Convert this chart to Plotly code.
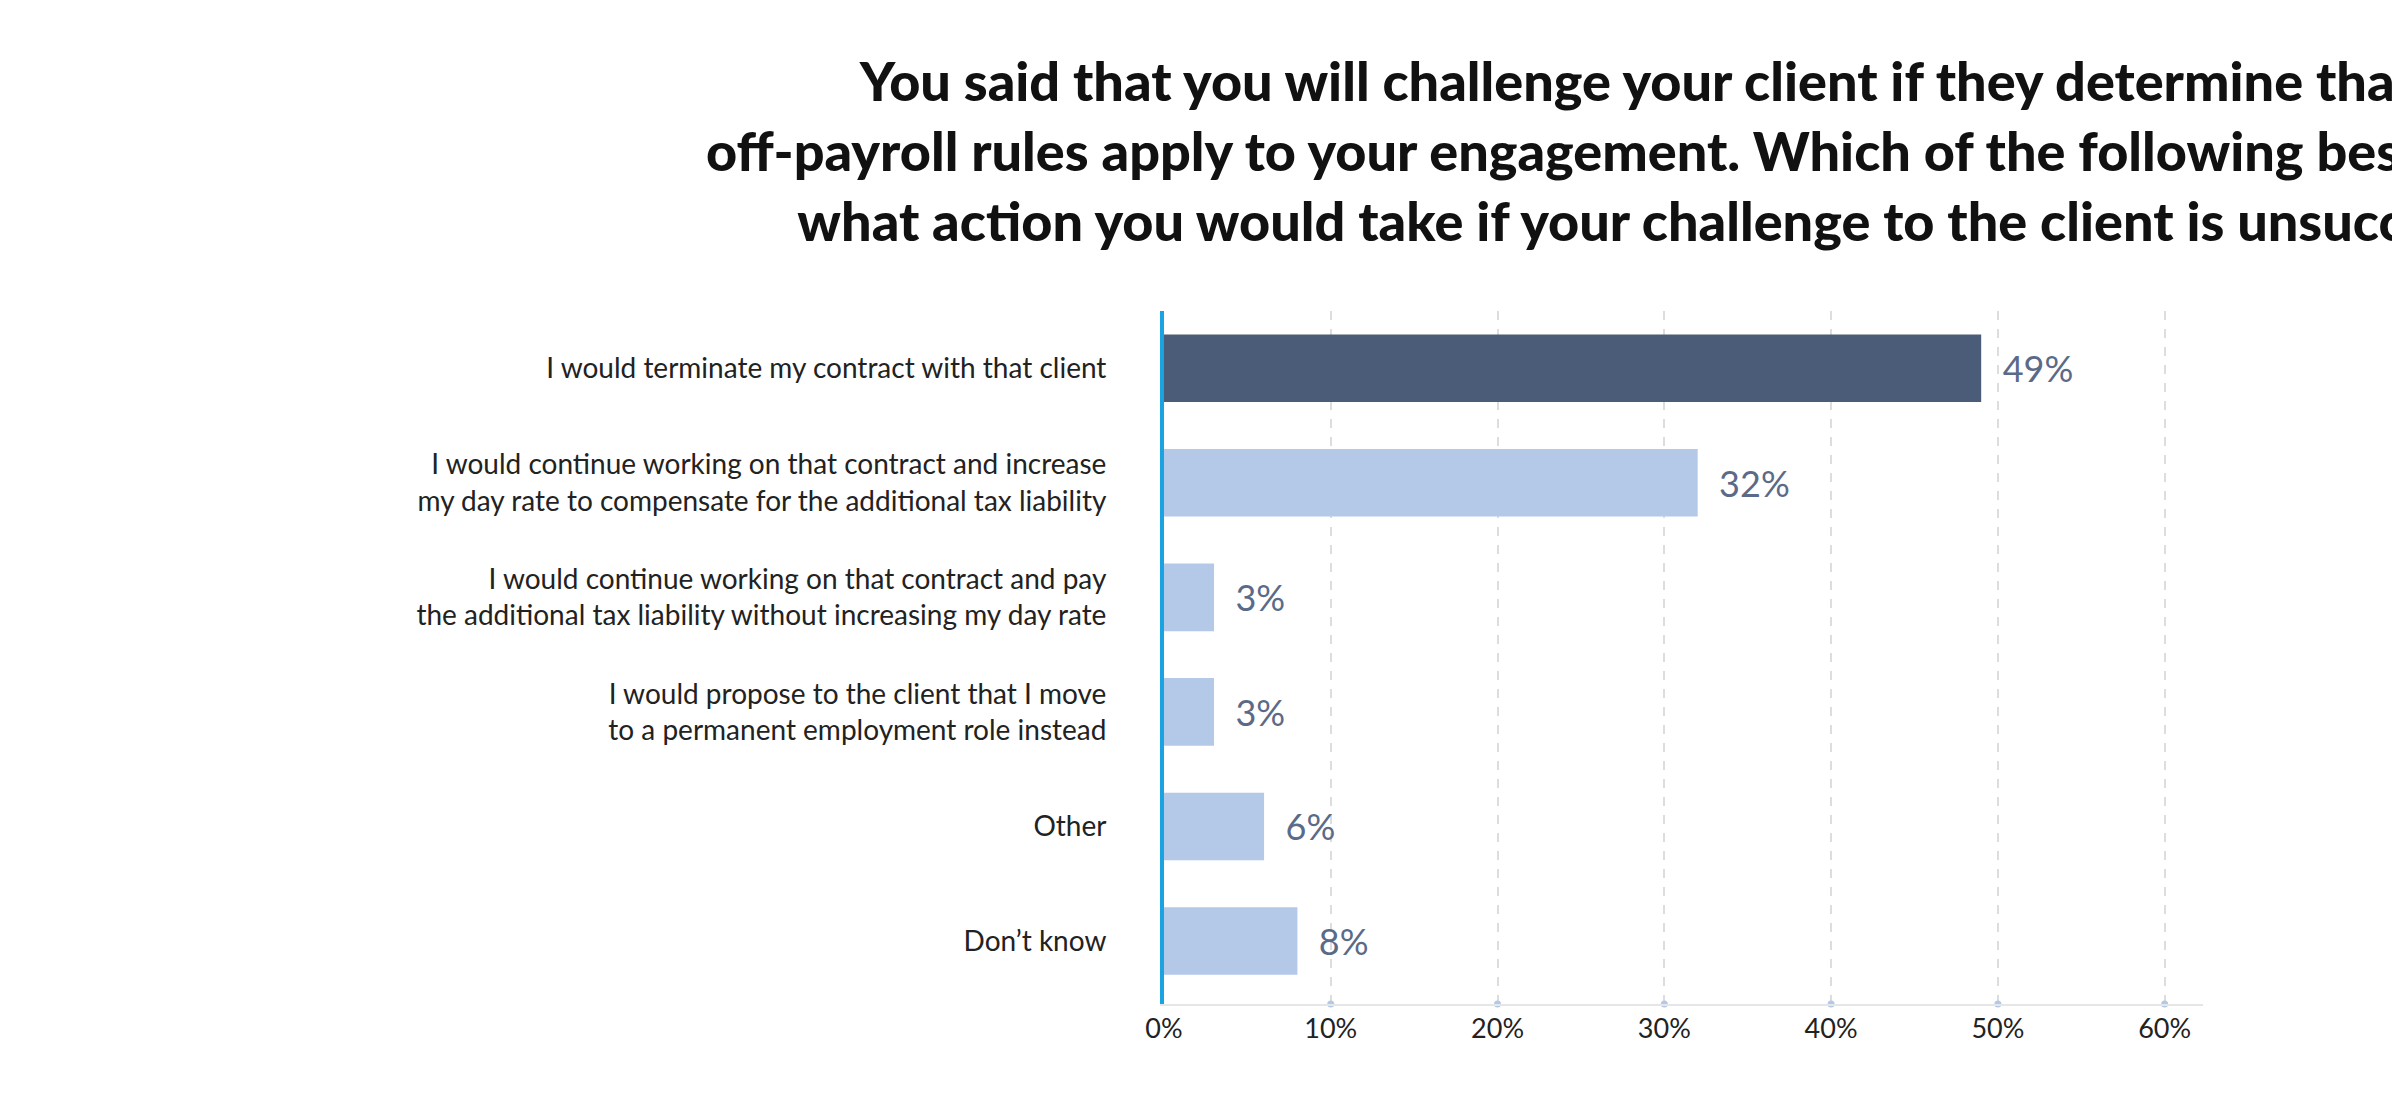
import plotly.graph_objects as go

# Survey answers and share of respondents (%)
answers = [
    "I would terminate my contract with that client",
    "I would continue working on that contract and increase<br>my day rate to compensate for the additional tax liability",
    "I would continue working on that contract and pay<br>the additional tax liability without increasing my day rate",
    "I would propose to the client that I move<br>to a permanent employment role instead",
    "Other",
    "Don\u2019t know",
]
shares = [49, 32, 3, 3, 6, 8]
tick_values = [0, 10, 20, 30, 40, 50, 60]
tick_labels = ["0%", "10%", "20%", "30%", "40%", "50%", "60%"]

title = ("You said that you will challenge your client if they determine that the<br>"
         "off-payroll rules apply to your engagement. Which of the following best describes<br>"
         "what action you would take if your challenge to the client is unsuccessful?")

ypos = list(range(len(answers)))
colors = ["#4a5c78"] + ["#b4c8e8"] * (len(answers) - 1)

fig = go.Figure()
fig.add_trace(go.Bar(
    x=shares, y=ypos, orientation="h", width=0.59,
    marker=dict(color=colors, line_width=0),
    text=[f"  {v}%" for v in shares], textposition="outside",
    textfont=dict(size=36, color="#5a6a88", family="Lato"),
    cliponaxis=False, hoverinfo="skip",
))
# small dots on the axis at each tick
fig.add_trace(go.Scatter(
    x=tick_values[1:], y=[5.55] * 6, mode="markers",
    marker=dict(size=7, color="#b4c8e8"), cliponaxis=False, hoverinfo="skip",
))

fig.add_annotation(
    text=title, xref="paper", yref="paper", x=0.5, y=1.0, yshift=265,
    xanchor="center", yanchor="top", showarrow=False, align="center",
    font=dict(size=54, family="Lato", weight=900, color="#111111"),
)

fig.update_layout(
    width=2400, height=1100,
    paper_bgcolor="white", plot_bgcolor="white",
    showlegend=False,
    margin=dict(l=1156, r=205, t=303, b=104),
    font=dict(family="Lato", color="#222222"),
)
fig.update_xaxes(
    range=[0, 62.3], tickvals=tick_values, ticktext=tick_labels,
    tickfont=dict(size=27, color="#222222"),
    showgrid=True, gridcolor="#dddddd", griddash="dash", gridwidth=2,
    zeroline=False, showline=True, linecolor="#e6e6e6", linewidth=2,
    ticks="", ticklen=0,
)
fig.update_yaxes(
    range=[5.55, -0.5], tickvals=ypos, ticktext=answers,
    tickfont=dict(size=28, color="#222222"), ticks="outside", ticklen=48,
    tickcolor="white", showgrid=False, zeroline=False,
    showline=True, linecolor="#1aa3e0", linewidth=4,
)

fig.write_html("out.html")
